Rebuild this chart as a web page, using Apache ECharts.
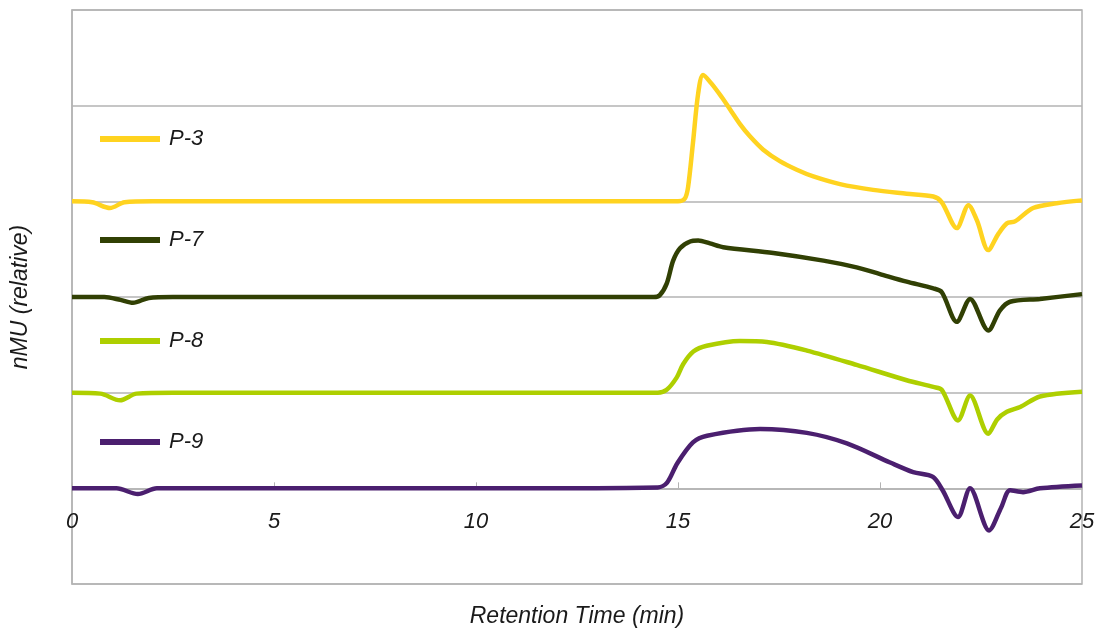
<!DOCTYPE html>
<html><head><meta charset="utf-8">
<script src="https://cdn.jsdelivr.net/npm/echarts@6/dist/echarts.min.js"></script>
<style>html,body{margin:0;padding:0;background:#fff}#c{width:1099px;height:630px}</style>
</head><body><div id="c"></div>
<script>
const seriesNames = ['P-3','P-7','P-8','P-9'];
const seriesColors = ['#ffd320','#314004','#aecf00','#4b1f6f'];
const xTicks = [0,5,10,15,20,25];

const p3 = [[0,3.0],[0.5,2.99],[0.94,2.93],[1.3,2.99],[2,3.0],[5,3.0],[10,3.0],[14,3.0],[15.0,3.0],[15.17,3.03],[15.25,3.15],[15.37,3.61],[15.5,4.13],[15.62,4.32],[15.83,4.23],[16.08,4.09],[16.29,3.96],[16.53,3.81],[16.78,3.68],[17.11,3.54],[17.52,3.42],[17.94,3.33],[18.35,3.26],[19.01,3.18],[19.83,3.12],[20.66,3.08],[21.32,3.05],[21.53,2.99],[21.9,2.72],[22.19,2.96],[22.4,2.8],[22.68,2.49],[22.93,2.66],[23.14,2.77],[23.34,2.79],[23.79,2.93],[24.37,2.98],[25,3.01]];
const p7 = [[0,2.0],[0.8,2.0],[1.2,1.97],[1.51,1.94],[1.9,1.99],[2.5,2.0],[5,2.0],[10,2.0],[14.4,2.0],[14.55,2.02],[14.72,2.14],[14.88,2.38],[15.05,2.51],[15.3,2.58],[15.5,2.59],[15.79,2.56],[16.12,2.52],[17.36,2.46],[18.6,2.38],[19.42,2.31],[20.0,2.24],[20.66,2.16],[21.32,2.09],[21.53,2.05],[21.9,1.74],[22.23,1.98],[22.68,1.65],[22.97,1.86],[23.22,1.95],[23.96,1.98],[25,2.03]];
const p8 = [[0,1.0],[0.7,0.99],[1.19,0.92],[1.6,0.99],[2.5,1.0],[5,1.0],[10,1.0],[14.5,1.0],[14.72,1.03],[14.97,1.16],[15.13,1.30],[15.38,1.43],[15.71,1.49],[16.53,1.54],[17.2,1.53],[18.19,1.44],[19.42,1.29],[20.66,1.13],[21.32,1.06],[21.53,1.03],[21.93,0.71],[22.23,0.97],[22.68,0.57],[22.9,0.72],[23.14,0.8],[23.47,0.85],[23.96,0.96],[25,1.01]];
const p9 = [[0,0.0],[1.1,0.0],[1.63,-0.06],[2.1,0.0],[5,0],[10,0],[14.5,0.01],[14.73,0.06],[14.98,0.26],[15.37,0.48],[15.72,0.55],[17.03,0.62],[18.19,0.58],[19.18,0.47],[20.25,0.27],[20.82,0.17],[21.31,0.12],[21.55,-0.02],[21.93,-0.30],[22.23,0.0],[22.7,-0.44],[23.0,-0.2],[23.22,-0.02],[23.54,-0.04],[23.96,0.0],[25,0.03]];
const allData = [p3,p7,p8,p9];

const font = '"Liberation Sans", Arial, sans-serif';
const txt = '#1a1a1a';
const chart = echarts.init(document.getElementById('c'), null, {renderer:'canvas'});
chart.setOption({
  animation:false,
  grid:{left:72,right:17,top:10,bottom:46,show:true,borderColor:'#b3b3b3',borderWidth:1.5,
        containLabel:false, outerBoundsMode:'none'},
  legend:{
    data:seriesNames, orient:'vertical', left:95, top:123,
    icon:'rect', itemWidth:60, itemHeight:6, itemGap:79,
    textStyle:{fontFamily:font,fontStyle:'italic',fontSize:22,color:txt,lineHeight:21,padding:[0,0,0,4]}
  },
  xAxis:{
    type:'value', min:0, max:25, interval:5,
    axisLine:{onZero:true,lineStyle:{color:'#b3b3b3',width:1.5}},
    axisTick:{show:true,inside:true,length:6,lineStyle:{color:'#b3b3b3'}},
    axisLabel:{margin:-73,fontFamily:font,fontStyle:'italic',fontSize:22,color:txt,
      formatter:v=>xTicks.includes(v)?String(v):''},
    splitLine:{show:false},
    name:'Retention Time (min)', nameLocation:'middle', nameGap:21,
    nameTextStyle:{fontFamily:font,fontStyle:'italic',fontSize:23,color:txt}
  },
  yAxis:{
    type:'value', min:-1, max:5, interval:1,
    axisLine:{show:true,onZero:false,lineStyle:{color:'#b3b3b3',width:1.5}},
    axisTick:{show:false}, axisLabel:{show:false},
    splitLine:{show:true,lineStyle:{color:'#b3b3b3',width:1.5}},
    name:'nMU (relative)', nameLocation:'middle', nameGap:40, nameRotate:90,
    nameTextStyle:{fontFamily:font,fontStyle:'italic',fontSize:23,color:txt}
  },
  series: seriesNames.map((n,i)=>({
    name:n, type:'line', data:allData[i], smooth:0.3, showSymbol:false,
    color:seriesColors[i], lineStyle:{width:4.5,color:seriesColors[i]}, z:10-i
  }))
});
</script></body></html>
